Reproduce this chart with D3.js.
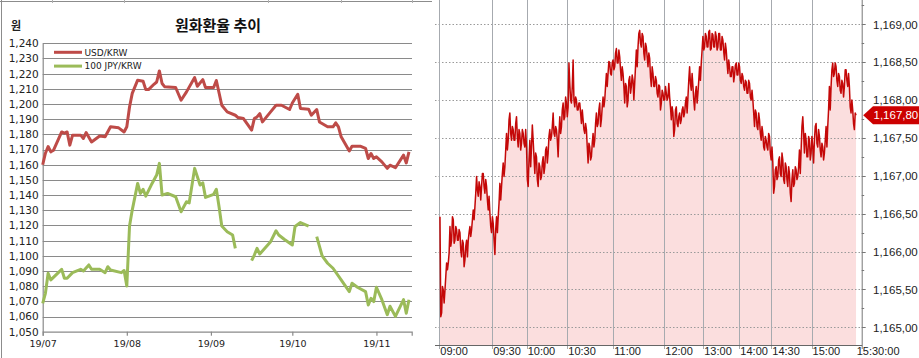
<!DOCTYPE html>
<html>
<head>
<meta charset="utf-8">
<script src="https://cdn.jsdelivr.net/npm/d3@7"></script>
<style>
  body { margin: 0; background: #fff; }
  #plot { width: 919px; height: 358px; overflow: hidden; }
</style>
</head>
<body>
<div id="plot"></div>
<script>

// ---- left chart data (daily, 2019) ----
var usdDates = ["07-01","07-02","07-03","07-04","07-05","07-08","07-09","07-10","07-11","07-12",
  "07-15","07-16","07-17","07-19","07-22","07-24","07-26","07-29","07-31","08-01",
  "08-02","08-03","08-05","08-07","08-08","08-09","08-11","08-12","08-13","08-14",
  "08-15","08-19","08-21","08-23","08-26","08-27","08-29","08-30","09-02","09-03",
  "09-05","09-07","09-10","09-11","09-13","09-16","09-17","09-18","09-19","09-20",
  "09-23","09-25","09-27","09-30","10-01","10-03","10-04","10-07","10-08","10-10",
  "10-11","10-14","10-16","10-17","10-18","10-19","10-22","10-23","10-26","10-28",
  "10-29","10-30","10-31","11-01","11-03","11-05","11-06","11-08","11-11","11-12","11-13"];
var usdValues = [1160,1167.6,1172,1168.5,1169.6,1181.6,1180.8,1181.6,1172.9,1179.5,
  1179.5,1177.3,1181.2,1175,1178.9,1178.4,1185,1184.3,1181.6,1185,
  1198,1207,1215.7,1215,1209.5,1209.5,1213,1214.5,1221.8,1213.5,
  1211.3,1210.9,1202.5,1208,1217.4,1211.7,1216.1,1210.9,1210.9,1215.5,
  1199.2,1194.8,1192.6,1191.1,1190.4,1182.8,1190.4,1191.5,1193.7,1188.2,
  1194.8,1199.2,1199.2,1196.4,1200.7,1206.4,1197,1196.6,1192.6,1196.4,
  1188.2,1185,1185,1187.6,1185,1178.4,1169.1,1172.2,1172.2,1170.7,
  1164.1,1167.4,1164.1,1165.2,1161.9,1157.6,1159.7,1158,1166.3,1161.2,1168.5];

var jpyDates = ["07-01","07-02","07-03","07-04","07-08","07-09","07-10","07-12","07-15","07-16",
  "07-18","07-19","07-22","07-24","07-25","07-26","07-30","07-31","08-01","08-02",
  "08-03","08-05","08-06","08-07","08-08","08-10","08-12","08-13","08-14","08-16",
  "08-19","08-21","08-23","08-24","08-26","08-28","08-29","08-30","09-02","09-03",
  "09-04","09-05","09-07","09-09","09-10","09-12","09-16","09-17","09-18","09-19",
  "09-23","09-25","09-26","09-28","10-01","10-02","10-04","10-07","10-08","10-10",
  "10-12","10-14","10-16","10-19","10-22","10-23","10-25","10-28","10-29","10-30",
  "10-31","11-01","11-03","11-05","11-06","11-08","11-11","11-12","11-13"];
var jpyValues = [1068.7,1075.3,1088.5,1084.1,1091.1,1085.2,1085.2,1088.9,1091.1,1090,
  1094,1091.1,1091.1,1088.9,1092.8,1090.7,1088.9,1090.3,1080.1,1119.6,
  1130.1,1147.7,1141.1,1143.8,1139.3,1146.6,1153.2,1160.9,1140,1141.1,
  1138.9,1129,1135.6,1134.9,1157.6,1146.6,1148.1,1138.5,1140.5,1143.8,
  1132.3,1119.6,1115.9,1113.7,1104.9,null,1096.8,1100.5,1104.9,1101.2,
  1109.3,1116.5,1113.7,1110.9,1107.1,1119.3,1121.9,1119.6,null,1112.6,
  1099.9,1095.1,1091.8,1084.1,1076.4,1081.9,1079.3,1076.4,1067.6,1072,
  1069.8,1079.3,1071.1,1061.2,1066.8,1060.1,1071.1,1062.2,1071.1];

var monthLabels = ["19/07","19/08","19/09","19/10","19/11"];
var monthDates = ["07-01","08-01","09-01","10-01","11-01"];
var leftTicks = d3.range(1050, 1241, 10);

// ---- right chart data (intraday, high/low per slot) ----
var priceHigh = [1166.46,1165.54,1165.49,1165.67,1165.85,1165.98,1166.33,1166.46,1166.42,1166.33,
  1166.29,1166.29,1166.25,1166.15,1166.11,1166.07,1166.15,1166.25,1166.33,1166.42,
  1166.55,1166.77,1166.99,1166.92,1166.86,1167.03,1167.03,1166.95,1166.86,1166.73,
  1166.51,1166.46,1166.37,1166.29,1166.46,1166.64,1166.90,1167.03,1167.17,1167.34,
  1167.56,1167.74,1167.83,1167.65,1167.61,1167.69,1167.78,1167.61,1167.56,1167.61,
  1167.56,1167.61,1167.38,1167.21,1167.47,1167.67,1167.47,1167.30,1167.25,1167.17,
  1167.12,1167.17,1167.25,1167.34,1167.38,1167.52,1167.61,1167.65,1167.83,1167.65,
  1167.61,1167.56,1167.78,1167.87,1167.96,1168.04,1167.96,1168.49,1168.22,1168.18,
  1168.53,1168.04,1168.00,1167.96,1167.96,1167.87,1167.74,1167.69,1167.61,1167.43,
  1167.38,1167.43,1167.56,1167.69,1167.83,1167.87,1167.96,1167.91,1168.04,1168.18,
  1168.35,1168.51,1168.49,1168.49,1168.53,1168.62,1168.68,1168.66,1168.57,1168.44,
  1168.35,1168.22,1168.18,1168.26,1168.31,1168.33,1168.26,1168.44,1168.66,1168.88,
  1168.92,1168.88,1168.84,1168.75,1168.70,1168.62,1168.55,1168.44,1168.35,1168.31,
  1168.26,1168.20,1168.18,1168.13,1168.09,1168.18,1168.09,1168.22,1168.04,1167.91,
  1167.83,1167.87,1167.91,1167.78,1167.83,1167.87,1167.91,1167.96,1168.04,1168.26,
  1168.44,1168.35,1168.18,1168.09,1168.18,1168.26,1168.44,1168.66,1168.84,1168.88,
  1168.84,1168.90,1168.92,1168.88,1168.86,1168.90,1168.84,1168.88,1168.88,1168.84,
  1168.79,1168.75,1168.66,1168.53,1168.44,1168.44,1168.44,1168.46,1168.49,1168.49,
  1168.44,1168.35,1168.31,1168.26,1168.24,1168.26,1168.22,1168.13,1168.00,1167.87,
  1167.83,1167.83,1167.74,1167.65,1167.56,1167.52,1167.47,1167.56,1167.52,1167.38,
  1167.17,1167.08,1167.12,1167.21,1167.25,1167.30,1167.21,1167.17,1167.12,1167.12,
  1167.03,1166.95,1167.08,1167.12,1167.08,1167.12,1167.34,1167.65,1167.78,1167.56,
  1167.47,1167.52,1167.47,1167.52,1167.38,1167.65,1167.69,1167.61,1167.52,1167.43,
  1167.38,1167.47,1167.65,1167.87,1168.18,1168.40,1168.49,1168.49,1168.44,1168.35,
  1168.31,1168.26,1168.22,1168.40,1168.40,1168.35,1168.18,1168.00,1167.87,1167.83];
var priceLow = [1165.14,1165.19,1165.32,1165.49,1165.76,1165.85,1166.07,1166.15,1166.11,1166.15,
  1166.15,1166.15,1166.02,1165.93,1165.80,1165.89,1165.93,1166.15,1166.20,1166.29,
  1166.42,1166.59,1166.81,1166.73,1166.68,1166.86,1166.86,1166.77,1166.68,1166.55,
  1166.33,1166.25,1166.15,1165.96,1166.25,1166.46,1166.68,1166.86,1166.99,1167.12,
  1167.34,1167.47,1167.56,1167.47,1167.47,1167.47,1167.52,1167.38,1167.34,1167.43,
  1167.43,1167.38,1166.95,1166.86,1167.12,1167.38,1167.25,1167.03,1166.95,1166.86,
  1166.95,1166.99,1167.03,1167.12,1167.17,1167.30,1167.47,1167.52,1167.56,1167.52,
  1167.47,1167.25,1167.56,1167.65,1167.74,1167.78,1167.78,1167.91,1168.00,1167.96,
  1168.00,1167.91,1167.87,1167.87,1167.83,1167.69,1167.61,1167.56,1167.38,1167.17,
  1167.21,1167.25,1167.38,1167.47,1167.65,1167.69,1167.65,1167.74,1167.91,1168.00,
  1168.18,1168.35,1168.35,1168.33,1168.40,1168.44,1168.49,1168.49,1168.40,1168.26,
  1168.18,1167.96,1167.91,1168.00,1168.09,1168.18,1168.00,1168.22,1168.44,1168.70,
  1168.75,1168.70,1168.62,1168.53,1168.57,1168.44,1168.31,1168.18,1168.18,1168.18,
  1168.09,1168.04,1167.87,1167.96,1168.00,1168.00,1168.00,1168.04,1167.91,1167.74,
  1167.52,1167.61,1167.69,1167.65,1167.69,1167.74,1167.78,1167.83,1167.83,1168.04,
  1168.22,1168.13,1168.00,1167.87,1167.96,1168.09,1168.26,1168.49,1168.66,1168.70,
  1168.70,1168.70,1168.66,1168.68,1168.70,1168.70,1168.66,1168.70,1168.66,1168.66,
  1168.64,1168.53,1168.49,1168.35,1168.31,1168.31,1168.24,1168.33,1168.33,1168.33,
  1168.26,1168.22,1168.18,1168.13,1168.09,1168.09,1168.04,1168.00,1167.83,1167.65,
  1167.65,1167.61,1167.56,1167.47,1167.38,1167.34,1167.38,1167.34,1167.30,1167.21,
  1166.77,1166.86,1166.95,1166.99,1167.03,1166.99,1166.95,1166.90,1166.95,1166.86,
  1166.77,1166.66,1166.86,1166.90,1166.95,1166.99,1167.03,1167.34,1167.56,1167.30,
  1167.25,1167.25,1167.21,1167.30,1167.17,1167.47,1167.43,1167.38,1167.34,1167.25,
  1167.21,1167.30,1167.38,1167.65,1167.87,1168.18,1168.31,1168.35,1168.26,1168.18,
  1168.13,1168.09,1168.04,1168.18,1168.26,1168.18,1167.91,1167.83,1167.69,1167.61];
var lastPrice = 1167.80;

var timeLabels = ["09:00","09:30","10:00","10:30","11:00","12:00","13:00","14:00","14:30","15:00","15:30:00"];
var timeSlots = [-0.4, 31.4, 52.1, 76.5, 104.1, 134.8, 158.2, 179.9, 199.1, 223.3, 253.4];
var priceTicks = [1165, 1165.5, 1166, 1166.5, 1167, 1167.5, 1168, 1168.5, 1169];
var priceMinor = d3.range(1165.25, 1169.3, 0.5);


var width = 919, height = 358;
var parseDay = d3.timeParse("%Y-%m-%d");
function day(s) { return parseDay("2019-" + s); }

var svg = d3.select("#plot").append("svg")
    .attr("width", width)
    .attr("height", height)
    .style("font-family", "'Liberation Sans', Arial, sans-serif");

svg.append("rect").attr("width", width).attr("height", height).style("fill", "#fff");

// ================= left panel =================
var left = svg.append("g").attr("class", "left");

// sheet frame
left.append("line").attr("x1", 0).attr("x2", 432).attr("y1", 1.5).attr("y2", 1.5)
    .style("stroke", "#8c8c8c");
left.append("line").attr("x1", 1.5).attr("x2", 1.5).attr("y1", 0).attr("y2", height)
    .style("stroke", "#8c8c8c");
[52, 124, 268, 341, 412].forEach(function(x) {
    left.append("line").attr("x1", x + 0.5).attr("x2", x + 0.5).attr("y1", 0).attr("y2", 3)
	.style("stroke", "#b0b0b0");
});

var xL = d3.scaleTime()
    .domain([day("07-01"), day("11-14")])
    .range([42.7, 411.7]);
var yL = d3.scaleLinear()
    .domain([1050, 1240])
    .range([331.7, 43.3]);

// gridlines
left.selectAll(".gridL")
    .data(leftTicks.filter(function(d) { return d > 1050; }))
    .enter().append("line")
    .attr("x1", 42.7).attr("x2", 412)
    .attr("y1", function(d) { return Math.round(yL(d)) + 0.5; })
    .attr("y2", function(d) { return Math.round(yL(d)) + 0.5; })
    .style("stroke", "#8a8a8a")
    .style("stroke-width", 1.2);

// axes
var yAxisL = d3.axisLeft(yL).tickValues(leftTicks).tickSize(0).tickPadding(4)
    .tickFormat(d3.format(","));
var gy = left.append("g").attr("transform", "translate(42.7,0)").call(yAxisL);
gy.select(".domain").style("stroke", "#8a8a8a").style("stroke-width", 1.2);
gy.selectAll("text")
    .style("font-family", "'DejaVu Sans', Verdana, sans-serif")
    .style("font-size", "10.5px")
    .style("fill", "#222");

var xAxisL = d3.axisBottom(xL)
    .tickValues(monthDates.map(day))
    .tickSize(4).tickPadding(5)
    .tickFormat(function(d, i) { return monthLabels[i]; });
var gx = left.append("g").attr("transform", "translate(0,331.7)").call(xAxisL);
gx.select(".domain").style("stroke", "#8a8a8a").style("stroke-width", 1.2);
gx.selectAll(".tick line").style("stroke", "#8a8a8a").style("stroke-width", 1.2);
gx.selectAll("text")
    .style("font-family", "'DejaVu Sans', Verdana, sans-serif")
    .style("font-size", "9.5px")
    .style("fill", "#222");

// series
var lineL = d3.line()
    .defined(function(d) { return d.v !== null; })
    .x(function(d) { return xL(d.date); })
    .y(function(d) { return yL(d.v); });

function toPoints(dates, values) {
    return dates.map(function(s, i) { return {date: day(s), v: values[i]}; });
}

left.append("path")
    .datum(toPoints(jpyDates, jpyValues))
    .attr("d", lineL)
    .style("fill", "none")
    .style("stroke", "#9bbb59")
    .style("stroke-width", 3)
    .style("stroke-linejoin", "round");

left.append("path")
    .datum(toPoints(usdDates, usdValues))
    .attr("d", lineL)
    .style("fill", "none")
    .style("stroke", "#be4b48")
    .style("stroke-width", 3)
    .style("stroke-linejoin", "round");

// legend
var legend = [{name: "USD/KRW", color: "#be4b48"}, {name: "100 JPY/KRW", color: "#9bbb59"}];
legend.forEach(function(d, i) {
    var y = 52.3 + i * 13.8;
    left.append("line").attr("x1", 54).attr("x2", 82).attr("y1", y).attr("y2", y)
	.style("stroke", d.color).style("stroke-width", 3);
    left.append("text").attr("x", 84.5).attr("y", y + 3.3)
	.style("font-family", "'DejaVu Sans', Verdana, sans-serif")
	.style("font-size", "9px")
	.style("fill", "#222")
	.text(d.name);
});

// titles
left.append("text").attr("x", 11).attr("y", 29.5)
    .style("font-family", "'Noto Sans CJK KR', sans-serif")
    .style("font-size", "11px").style("font-weight", "bold").style("fill", "#222")
    .text("원");
left.append("text").attr("x", 218).attr("y", 30.5)
    .attr("text-anchor", "middle")
    .style("font-family", "'Noto Sans CJK KR', sans-serif")
    .style("font-size", "15px").style("font-weight", "bold").style("fill", "#111")
    .text("원화환율 추이");


// ================= right panel =================
var right = svg.append("g").attr("class", "right");
var plotL = 435, plotR = 861.7, plotB = 345;

var xR = d3.scaleLinear().domain([timeSlots[0], timeSlots[timeSlots.length - 1]]).range([439.3, plotR]);
var yR = d3.scaleLinear().domain([1165, 1169]).range([327.3, 24.3]);

// zigzag through high / low of every slot
var pts = [];
priceHigh.forEach(function(h, i) {
    var a = {i: i, v: h}, b = {i: i + 0.5, v: priceLow[i]};
    if (i % 2) { a.v = priceLow[i]; b.v = h; }
    pts.push(a, b);
});
pts.push({i: priceHigh.length, v: lastPrice});

right.append("path")
    .datum(pts)
    .attr("d", d3.area()
	  .x(function(d) { return xR(d.i); })
	  .y0(plotB)
	  .y1(function(d) { return yR(d.v); }))
    .style("fill", "#fbdede");

// horizontal dotted gridlines
right.selectAll(".gridR")
    .data(priceTicks)
    .enter().append("line")
    .attr("x1", plotL).attr("x2", plotR)
    .attr("y1", function(d) { return Math.round(yR(d)) + 0.5; })
    .attr("y2", function(d) { return Math.round(yR(d)) + 0.5; })
    .style("stroke", "#9a9a9a")
    .style("stroke-dasharray", "1.5,2");

// vertical gridlines at the time marks
right.selectAll(".vgrid")
    .data(timeSlots.slice(0, -1))
    .enter().append("line")
    .attr("x1", function(d) { return Math.round(xR(d)) + 0.5; })
    .attr("x2", function(d) { return Math.round(xR(d)) + 0.5; })
    .attr("y1", 0).attr("y2", plotB + 4)
    .style("stroke", "#a6aaaf");

// price line
right.append("path")
    .datum(pts)
    .attr("d", d3.line()
	  .x(function(d) { return xR(d.i); })
	  .y(function(d) { return yR(d.v); }))
    .style("fill", "none")
    .style("stroke", "#c40808")
    .style("stroke-width", 1.5)
    .style("stroke-linejoin", "round");

// axes lines
right.append("line").attr("x1", plotL).attr("x2", plotR + 0.5)
    .attr("y1", plotB + 0.5).attr("y2", plotB + 0.5)
    .style("stroke", "#666");
right.append("line").attr("x1", plotR + 0.5).attr("x2", plotR + 0.5)
    .attr("y1", 0).attr("y2", plotB + 4)
    .style("stroke", "#777");

// right axis ticks and labels
right.selectAll(".majR")
    .data(priceTicks)
    .enter().append("line")
    .attr("x1", plotR).attr("x2", plotR + 4)
    .attr("y1", function(d) { return Math.round(yR(d)) + 0.5; })
    .attr("y2", function(d) { return Math.round(yR(d)) + 0.5; })
    .style("stroke", "#777");
right.selectAll(".minR")
    .data(priceMinor)
    .enter().append("line")
    .attr("x1", plotR).attr("x2", plotR + 2.5)
    .attr("y1", function(d) { return Math.round(yR(d)) + 0.5; })
    .attr("y2", function(d) { return Math.round(yR(d)) + 0.5; })
    .style("stroke", "#777");

var priceFmt = function(v) { return d3.format(",.2f")(v).replace(".", ","); };

right.selectAll(".labR")
    .data(priceTicks)
    .enter().append("text")
    .attr("x", 873)
    .attr("y", function(d) { return yR(d) + 4.2; })
    .style("font-size", "11.5px")
    .style("fill", "#222")
    .text(priceFmt);

// time labels
right.selectAll(".labT")
    .data(timeLabels)
    .enter().append("text")
    .attr("x", function(d, i) { return i == timeLabels.length - 1 ? xR(timeSlots[i]) - 5 : xR(timeSlots[i]) + 1; })
    .attr("y", 355.3)
    .style("font-size", "11px")
    .style("fill", "#222")
    .text(function(d) { return d; });

// current price tag
var yTag = yR(lastPrice);
right.append("path")
    .attr("d", "M" + (plotR + 1.5) + "," + yTag + "L873," + (yTag - 9) + "L919," + (yTag - 9) +
	  "L919," + (yTag + 9) + "L873," + (yTag + 9) + "Z")
    .style("fill", "#cc0000");
right.append("text")
    .attr("x", 873.5).attr("y", yTag + 4.2)
    .style("font-size", "11.5px")
    .style("fill", "#fff")
    .text(priceFmt(lastPrice));

</script>
</body>
</html>
